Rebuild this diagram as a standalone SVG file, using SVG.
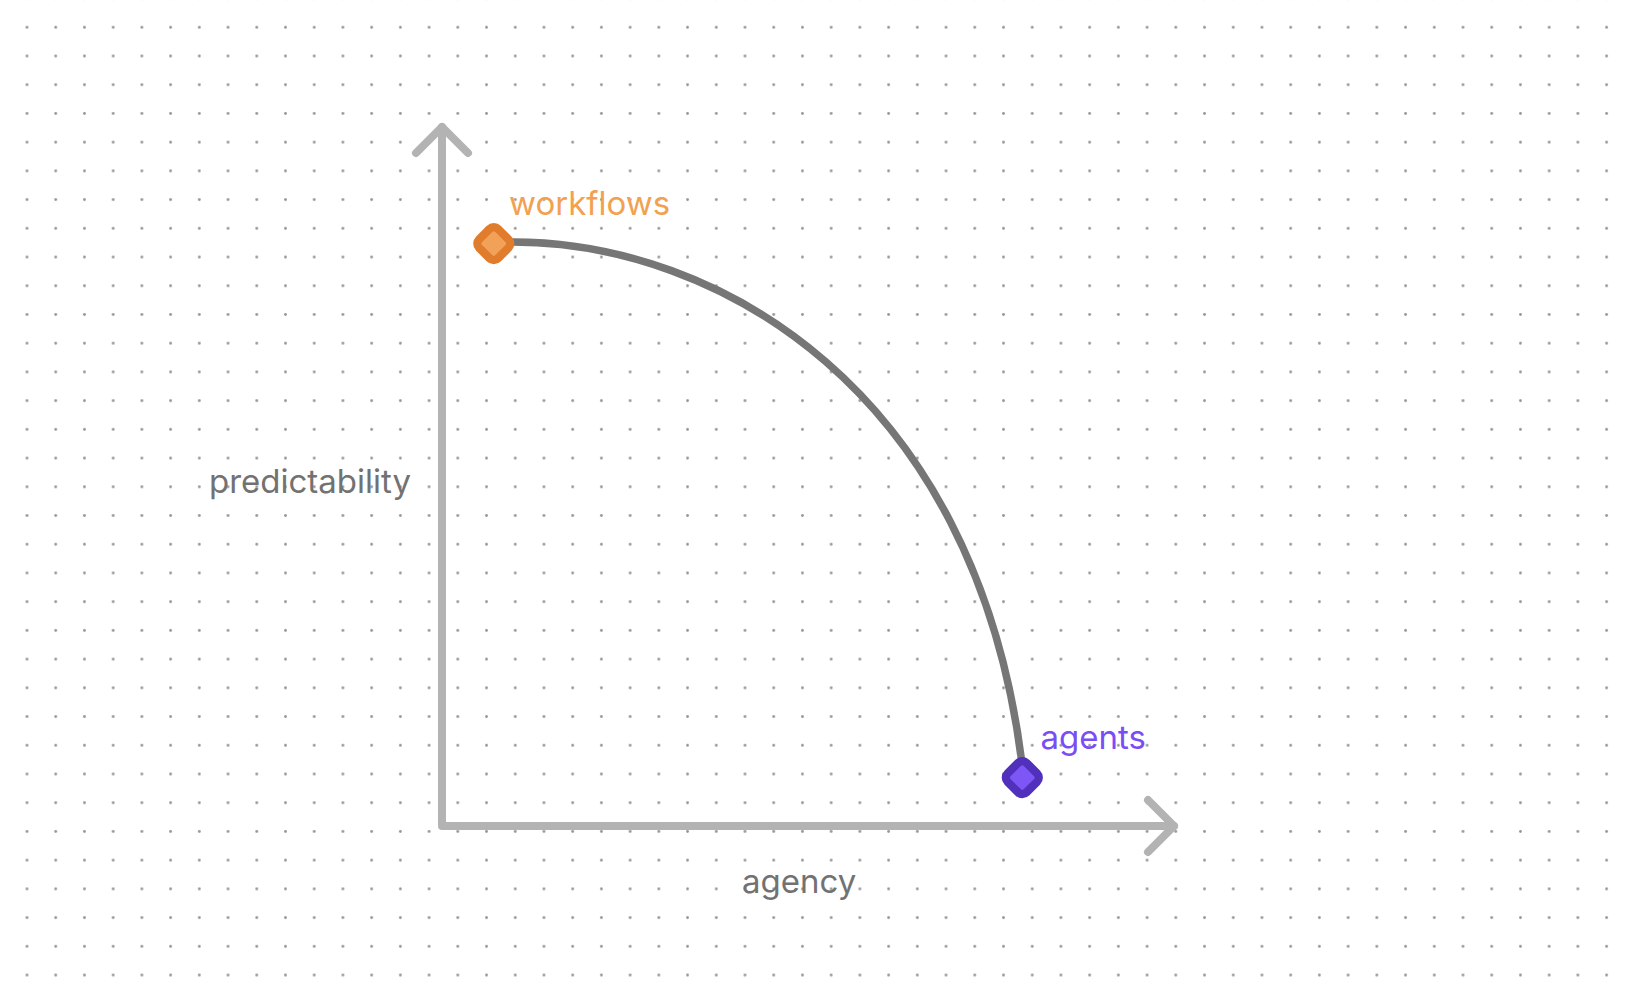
<svg xmlns="http://www.w3.org/2000/svg" width="1630" height="1002" viewBox="0 0 1630 1002">
  <defs>
    <pattern id="dots" patternUnits="userSpaceOnUse" x="12.64" y="12.94" width="28.72" height="28.72">
      <circle cx="14.36" cy="14.36" r="1.4" fill="#949494"/>
    </pattern>
    <style>
      .axis { fill: none; stroke: #b3b3b3; stroke-width: 8; stroke-linecap: round; stroke-linejoin: round; }
      .curve { fill: none; stroke: #767676; stroke-width: 7.5; stroke-linecap: round; }
      .lbl { font-family: Inter, "Noto Sans", "Liberation Sans", sans-serif; font-size: 33px; font-weight: 400; }
      .gray { fill: #727272; }
      .orange { fill: #f2a14f; }
      .purple { fill: #7b4df5; }
      .dia { stroke-width: 8.3; stroke-linejoin: round; }
      .dia-o { fill: #f2a258; stroke: #e07c2b; }
      .dia-p { fill: #7d56f5; stroke: #5130bb; }
    </style>
  </defs>
  <rect x="0" y="0" width="1630" height="1002" fill="#ffffff"/>
  <rect x="0" y="0" width="1630" height="1002" fill="url(#dots)"/>

  <g id="connectors">
    <polyline id="y-axis-and-x-axis" class="axis" points="442,127 442,826 1174,826"/>
    <polyline id="y-arrowhead" class="axis" points="416,153 442,127 468,153"/>
    <polyline id="x-arrowhead" class="axis" points="1148,800 1174,826 1148,852"/>
    <path id="tradeoff-curve" class="curve" d="M 500 242 L 513 242 C 716 242, 974 388, 1021.5 760 L 1023 777"/>
  </g>

  <g id="axis-label-predictability">
    <text class="lbl gray" x="209" y="492.5">predictability</text>
  </g>
  <g id="axis-label-agency">
    <text class="lbl gray" x="742" y="893">agency</text>
  </g>

  <g id="node-workflows">
    <rect class="dia dia-o" x="-13.4" y="-13.4" width="26.8" height="26.8" rx="6" transform="translate(493.8,243.6) rotate(45)"/>
    <text class="lbl orange" x="509" y="215">workflows</text>
  </g>

  <g id="node-agents">
    <rect class="dia dia-p" x="-13.4" y="-13.4" width="26.8" height="26.8" rx="6" transform="translate(1022.3,777.6) rotate(45)"/>
    <text class="lbl purple" x="1040.5" y="748.5">agents</text>
  </g>
</svg>
